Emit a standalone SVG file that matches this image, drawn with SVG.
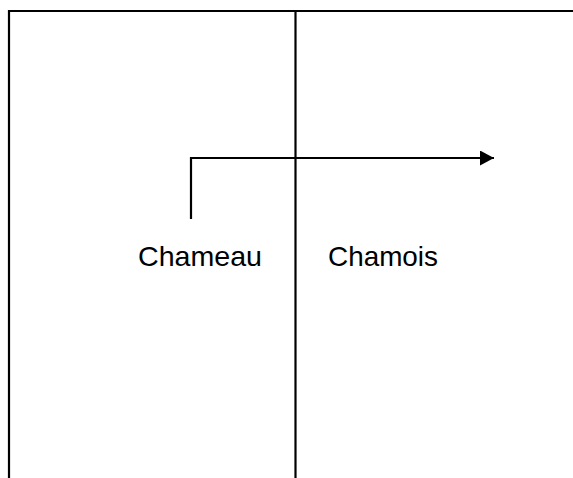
<svg xmlns="http://www.w3.org/2000/svg" width="573" height="478" viewBox="0 0 573 478">
<style>
.ln{stroke:#000;stroke-width:2.2;fill:none}
.lbl{font-family:"Liberation Sans","Open Sans",sans-serif;font-size:28px;fill:#000}
</style>
<defs>
<marker id="ah" markerWidth="14" markerHeight="15" refX="14" refY="7.5" orient="auto" markerUnits="userSpaceOnUse">
<path d="M0,0 L14,7.5 L0,15 Z" fill="#000"/>
</marker>
</defs>
<rect width="573" height="478" fill="#fff"/>
<g id="frame">
<path class="ln" d="M9,478 V11 H573"/>
<path class="ln" d="M295.5,11 V478"/>
</g>
<g id="chameau"><text class="lbl" x="138" y="266" textLength="124" lengthAdjust="spacingAndGlyphs">Chameau</text></g>
<g id="chamois"><text class="lbl" x="328" y="266" textLength="110" lengthAdjust="spacingAndGlyphs">Chamois</text></g>
<g id="connectors">
<path class="ln" d="M191,219 V158 H494" marker-end="url(#ah)"/>
</g>
</svg>
